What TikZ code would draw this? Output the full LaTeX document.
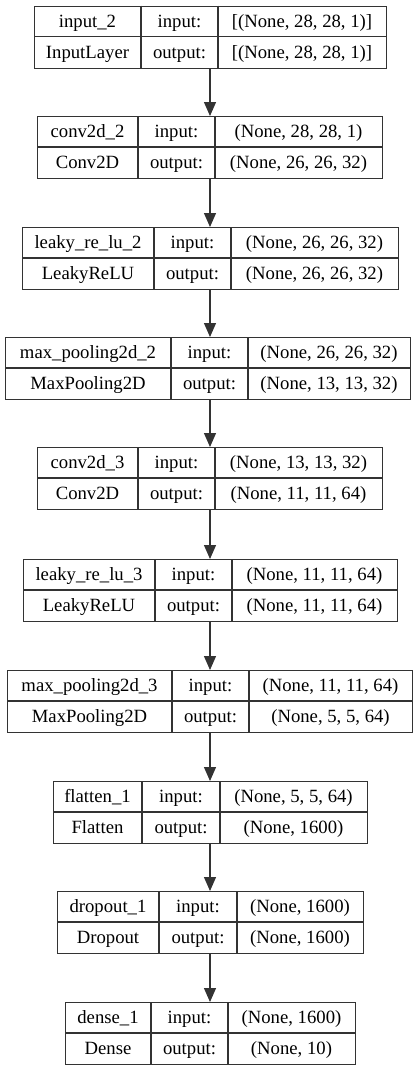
\documentclass[tikz,border=0pt]{standalone}
\usepackage{fontspec}
\setmainfont{Liberation Serif}
\usetikzlibrary{arrows.meta}
\begin{document}
\begin{tikzpicture}[x=1pt,y=-1pt,
  edge/.style={draw=black!80,line width=1.3pt},
  layerbox/.style={edge,rectangle,inner sep=0pt,minimum height=62pt,anchor=north west},
  lbl/.style={inner sep=0pt,anchor=base,font=\fontsize{18.7pt}{20pt}\selectfont,text=black},
  arr/.style={edge,-{Triangle[length=14pt,width=12pt]}}]
\useasboundingbox (0,0) rectangle (420,1069);
\coordinate (ax) at (210,0);
\foreach \n/\xa/\xb/\da/\db/\t/\la/\lb/\ia/\oa in {
 L1/34/386/141/218/5.5/input\_2/InputLayer/{[(None, 28, 28, 1)]}/{[(None, 28, 28, 1)]},
 L2/37/382/138/215/116/conv2d\_2/Conv2D/{(None, 28, 28, 1)}/{(None, 26, 26, 32)},
 L3/22/398/154/231/227/leaky\_re\_lu\_2/LeakyReLU/{(None, 26, 26, 32)}/{(None, 26, 26, 32)},
 L4/5/410/171/248/337/max\_pooling2d\_2/MaxPooling2D/{(None, 26, 26, 32)}/{(None, 13, 13, 32)},
 L5/37/382/138/215/447/conv2d\_3/Conv2D/{(None, 13, 13, 32)}/{(None, 11, 11, 64)},
 L6/23/397/155/232/559/leaky\_re\_lu\_3/LeakyReLU/{(None, 11, 11, 64)}/{(None, 11, 11, 64)},
 L7/7/412/172/249/670/max\_pooling2d\_3/MaxPooling2D/{(None, 11, 11, 64)}/{(None, 5, 5, 64)},
 L8/53/367/142/220/781/flatten\_1/Flatten/{(None, 5, 5, 64)}/{(None, 1600)},
 L9/57/363/159/237/891/dropout\_1/Dropout/{(None, 1600)}/{(None, 1600)},
 L10/65/355/151/228/1002/dense\_1/Dense/{(None, 1600)}/{(None, 10)}}
{
  \node[layerbox,minimum width={\xb-\xa}] (\n) at (\xa,\t) {};
  \draw[edge] (\xa,\t+31) -- (\xb,\t+31);
  \draw[edge] (\da,\t) -- (\da,\t+62);
  \draw[edge] (\db,\t) -- (\db,\t+62);
  \node[lbl] (\n-name) at ({(\xa+\da)/2},\t+21.5) {\la};
  \node[lbl] (\n-type) at ({(\xa+\da)/2},\t+52.5) {\lb};
  \node[lbl] (\n-ik) at ({(\da+\db)/2},\t+21.5) {input:};
  \node[lbl] (\n-ok) at ({(\da+\db)/2},\t+52.5) {output:};
  \node[lbl] (\n-iv) at ({(\db+\xb)/2},\t+21.5) {\ia};
  \node[lbl] (\n-ov) at ({(\db+\xb)/2},\t+52.5) {\oa};
}
\foreach \a/\b in {L1/L2,L2/L3,L3/L4,L4/L5,L5/L6,L6/L7,L7/L8,L8/L9,L9/L10}
  \draw[arr] (\a.south -| ax) -- (\b.north -| ax);
\end{tikzpicture}
\end{document}
